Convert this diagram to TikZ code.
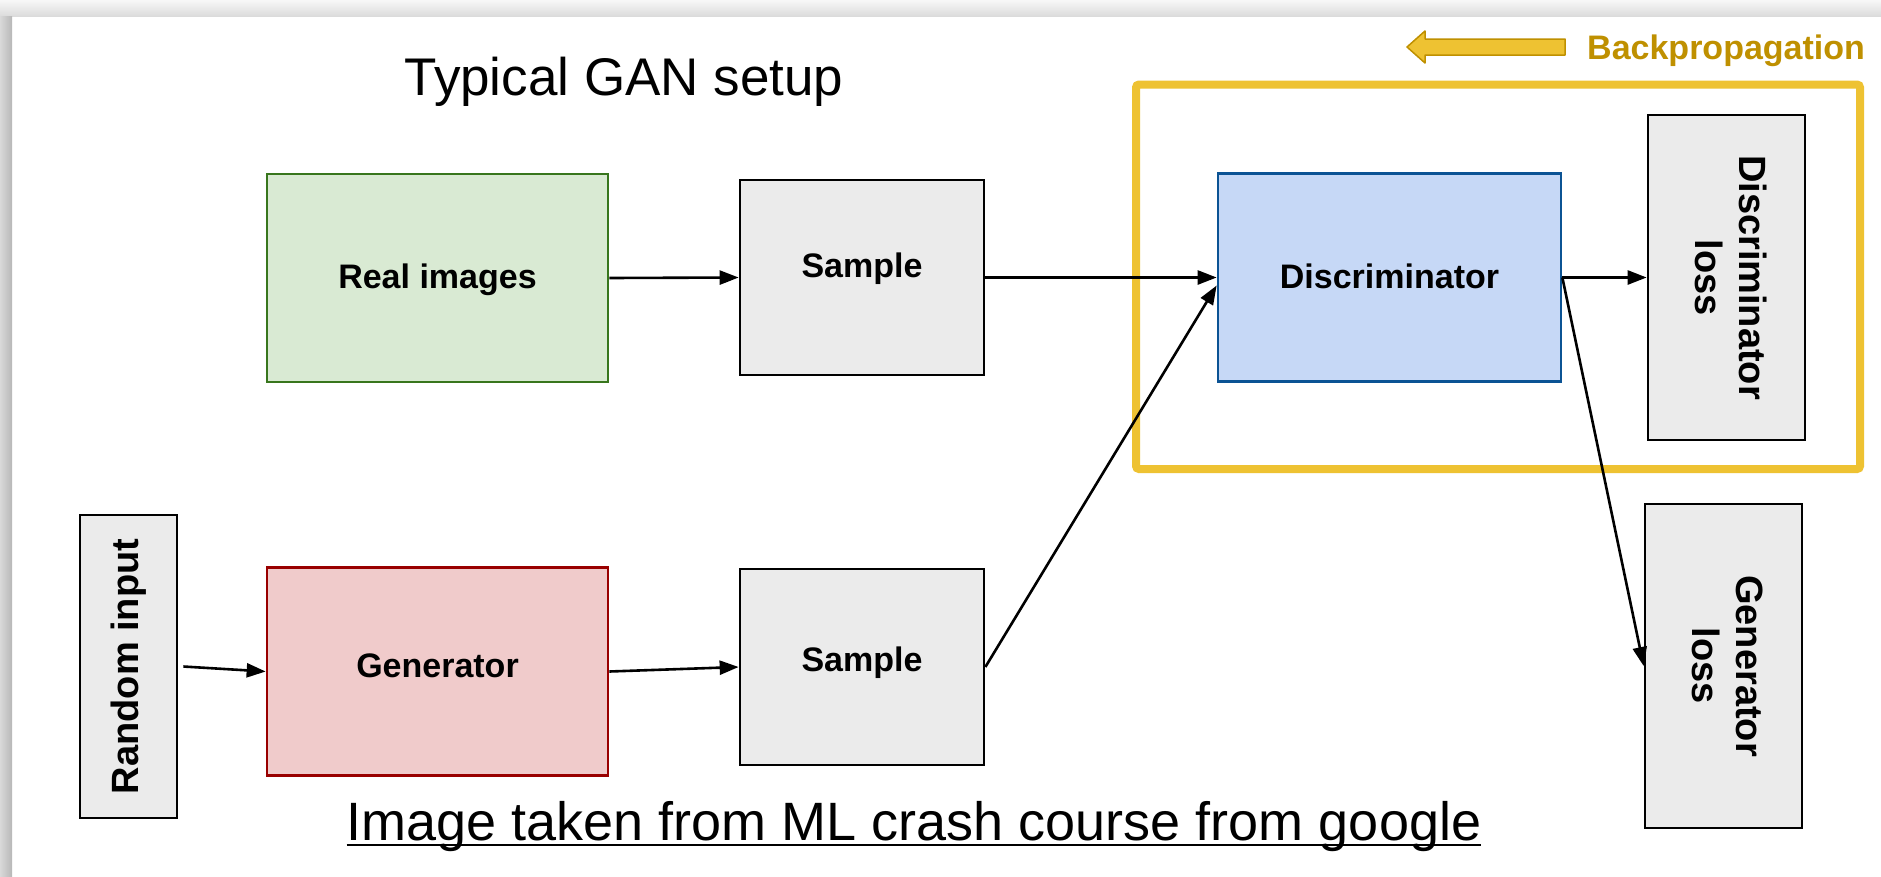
\documentclass[tikz,border=0pt]{standalone}
\usepackage{fontspec}
\setmainfont{Liberation Sans}
\usetikzlibrary{arrows.meta}
\definecolor{realfill}{HTML}{D9EAD3}
\definecolor{realdraw}{HTML}{38761D}
\definecolor{genfill}{HTML}{F0CBCB}
\definecolor{gendraw}{HTML}{990000}
\definecolor{discfill}{HTML}{C6D8F6}
\definecolor{discdraw}{HTML}{0B5394}
\definecolor{grayfill}{HTML}{EBEBEB}
\definecolor{bpyellow}{HTML}{EEC232}
\definecolor{bpgold}{HTML}{BF9000}
\newcommand{\lbl}[2]{\raisebox{#1}[0pt][0pt]{#2}}
\begin{document}
\begin{tikzpicture}[x=1pt,y=-1pt,
  box/.style={draw, line width=2.7pt, inner sep=0pt, align=center,
    font=\fontsize{34}{40}\selectfont\bfseries},
  graybox/.style={box, fill=grayfill, draw=black},
  rotbox/.style={graybox, font=\fontsize{38}{44}\selectfont\bfseries},
  conn/.style={line width=2.6pt, -{Triangle[length=19pt,width=14pt]}},
  bigtext/.style={inner sep=0pt, font=\fontsize{53}{60}\selectfont}
]
\useasboundingbox (0,0) rectangle (1881,876);
% page and shadow
\fill[white] (0,0) rectangle (1881,876);
\shade[top color=white!97!black, bottom color=white!86!black] (0,0) rectangle (1881,16);
\shade[left color=white!85!black, right color=white!72!black] (0,16) rectangle (12,876);

% backpropagation frame
\draw[bpyellow, line width=8pt, rounded corners=3pt] (1136,84.5) rectangle (1860,469);
\node[anchor=base west, inner sep=0pt, text=bpgold, font=\fontsize{34}{40}\selectfont\bfseries] (bp) at (1587,59) {Backpropagation};
\filldraw[fill=bpyellow, draw=bpgold, line width=1.5pt, line join=round]
  (1407,47) -- (1425,31) -- (1425,39) -- (1565,39) -- (1565,55) -- (1425,55) -- (1425,63) -- cycle;

% title and footer
\node[bigtext, anchor=base] (title) at (624,95) {Typical GAN setup};
\node[bigtext, anchor=base, font=\fontsize{54}{60}\selectfont] (foot) at (914,840) {Image taken from ML crash course from google};
\draw[line width=2.5pt] ([yshift=-5pt]foot.base west) -- ([yshift=-5pt]foot.base east);

% nodes
\node[box, fill=realfill, draw=realdraw, minimum width=341pt, minimum height=208pt] (real) at (437.5,278) {\lbl{-10pt}{Real images}};
\node[graybox, minimum width=244pt, minimum height=195pt] (samp1) at (862,277.5) {\lbl{0pt}{Sample}};
\node[box, fill=discfill, draw=discdraw, minimum width=343pt, minimum height=208pt] (disc) at (1389.5,277.5) {\lbl{-10.5pt}{Discriminator}};
\node[rotbox, minimum width=157pt, minimum height=325pt] (dloss) at (1726.5,277.5)
  {\rotatebox{-90}{\begin{tabular}{@{}c@{}}Discriminator\\loss\end{tabular}}};
\node[rotbox, minimum width=157pt, minimum height=324pt] (gloss) at (1723.5,666)
  {\rotatebox{-90}{\begin{tabular}{@{}c@{}}Generator\\loss\end{tabular}}};
\node[rotbox, minimum width=97pt, minimum height=303pt] (rand) at (128.5,666.5)
  {\rotatebox{90}{Random input}};
\node[box, fill=genfill, draw=gendraw, minimum width=341pt, minimum height=208pt] (gen) at (437.5,671.5) {\lbl{-6pt}{Generator}};
\node[graybox, minimum width=244pt, minimum height=196pt] (samp2) at (862,667) {\lbl{-4pt}{Sample}};

% connectors
\draw[conn] (real.east) -- (samp1.west);
\draw[conn] (samp1.east) -- (disc.west);
\draw[conn] ([xshift=5pt]rand.east) -- (gen.west);
\draw[conn] (gen.east) -- (samp2.west);
\draw[conn] (samp2.east) -- ([yshift=-8pt]disc.west);
\draw[conn] (disc.east) -- (dloss.west);
\draw[conn] (disc.east) -- (gloss.west);
\end{tikzpicture}
\end{document}
